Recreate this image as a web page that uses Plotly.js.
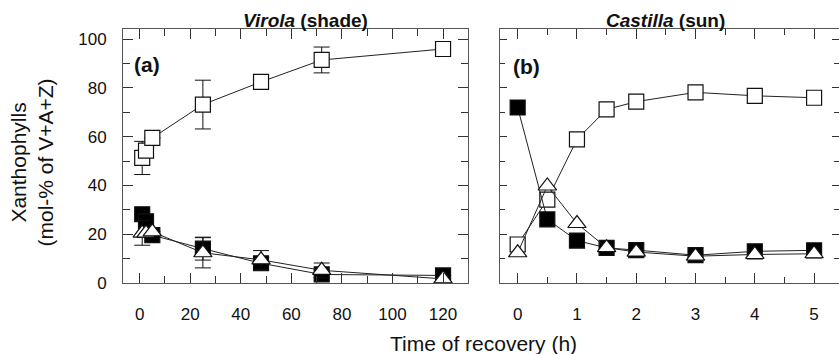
<!DOCTYPE html>
<html>
<head>
<meta charset="utf-8">
<script src="https://cdn.plot.ly/plotly-3.0.1.min.js"></script>
<style>
  html, body { margin: 0; padding: 0; background: #fff; }
  #chart { width: 839px; height: 354px; }
</style>
</head>
<body>
<div id="chart"></div>
<script>
// Virola (shade): recovery time in hours
const virolaTime = [1, 2.5, 5, 25, 48, 72, 120];
const virolaOpen = [51.3, 54.3, 59.5, 73.2, 82.5, 91.5, 96.0];
const virolaOpenErr = [6.8, null, null, 10, null, 5.3, null];
const virolaFilled = [28.2, 25.3, 19.6, 14.1, 8.1, 3.5, 3.1];
const virolaFilledErr = [null, null, null, 4.7, null, null, null];
const virolaTri = [20.5, 20.5, 21.0, 12.4, 9.5, 5.2, 1.7];
const virolaTriErr = [5, null, null, 6.2, 3.8, 3.0, null];

// Castilla (sun): recovery time in hours
const castillaTime = [0, 0.5, 1, 1.5, 2, 3, 4, 5];
const castillaOpen = [15.8, 34.2, 58.9, 71.2, 74.4, 78.2, 76.8, 76.0];
const castillaFilled = [72.0, 26.1, 17.4, 14.4, 13.5, 11.4, 13.0, 13.4];
const castillaTri = [12.4, 39.8, 24.4, 14.5, 12.7, 11.0, 11.7, 12.0];

const FONT = 'Liberation Sans, Arial, Helvetica, sans-serif';
const INK = '#111';
const LINE = '#222';

function series(x, y, err, symbol, fill, xa, ya) {
  const tr = {
    x: x, y: y, xaxis: xa, yaxis: ya,
    type: 'scatter', mode: 'lines+markers',
    line: { color: LINE, width: 1 },
    marker: {
      symbol: symbol,
      size: symbol === 'square' ? 15 : 16,
      color: fill,
      line: { color: INK, width: 1.2 }
    },
    showlegend: false, hoverinfo: 'skip', cliponaxis: false
  };
  if (err) {
    tr.error_y = { type: 'data', array: err, visible: true,
                   color: INK, thickness: 1, width: 8 };
  }
  return tr;
}

const data = [
  series(virolaTime, virolaOpen, virolaOpenErr, 'square', '#fff', 'x', 'y'),
  series(virolaTime, virolaFilled, virolaFilledErr, 'square', '#000', 'x', 'y'),
  series(virolaTime, virolaTri, virolaTriErr, 'triangle-up', '#fff', 'x', 'y'),
  series(castillaTime, castillaOpen, null, 'square', '#fff', 'x2', 'y2'),
  series(castillaTime, castillaFilled, null, 'square', '#000', 'x2', 'y2'),
  series(castillaTime, castillaTri, null, 'triangle-up', '#fff', 'x2', 'y2')
];

const axisBase = {
  showline: true, linecolor: '#555', linewidth: 1,
  mirror: 'allticks', ticks: 'inside', tickcolor: '#333', tickwidth: 1,
  showgrid: false, zeroline: false, fixedrange: true,
  tickfont: { family: FONT, size: 17, color: INK }
};

const layout = {
  width: 839, height: 354,
  margin: { l: 123, r: 0, t: 29, b: 71 },
  paper_bgcolor: '#fff', plot_bgcolor: '#fff',
  font: { family: FONT, color: INK },
  xaxis: Object.assign({}, axisBase, {
    domain: [0, 0.4823], range: [-6.6, 130.0],
    tickmode: 'linear', tick0: 0, dtick: 20, ticklen: 10,
    ticklabelstandoff: 16,
    minor: { dtick: 10, tick0: 0, ticks: 'inside', ticklen: 7, tickcolor: '#333' },
    anchor: 'y'
  }),
  yaxis: Object.assign({}, axisBase, {
    domain: [0, 1], range: [0, 104.2],
    tickmode: 'linear', tick0: 0, dtick: 20, ticklen: 10,
    ticklabelstandoff: 12,
    minor: { dtick: 10, tick0: 0, ticks: 'inside', ticklen: 7, tickcolor: '#333' },
    anchor: 'x'
  }),
  xaxis2: Object.assign({}, axisBase, {
    domain: [0.5272, 1], range: [-0.29, 5.42],
    tickmode: 'linear', tick0: 0, dtick: 1, ticklen: 10,
    ticklabelstandoff: 16,
    minor: { dtick: 0.5, tick0: 0, ticks: 'inside', ticklen: 6, tickcolor: '#333' },
    anchor: 'y2'
  }),
  yaxis2: Object.assign({}, axisBase, {
    domain: [0, 1], range: [0, 104.2],
    tickmode: 'linear', tick0: 0, dtick: 20, ticklen: 7,
    showticklabels: false,
    minor: { dtick: 10, tick0: 0, ticks: 'inside', ticklen: 5, tickcolor: '#333' },
    anchor: 'x2'
  }),
  annotations: [
    { text: '<b><i>Virola</i> (shade)</b>', xref: 'paper', yref: 'paper',
      x: 0.2542, y: 1.0315, xanchor: 'center', yanchor: 'middle', showarrow: false,
      font: { family: FONT, size: 19, color: INK } },
    { text: '<b><i>Castilla</i> (sun)</b>', xref: 'paper', yref: 'paper',
      x: 0.757, y: 1.0315, xanchor: 'center', yanchor: 'middle', showarrow: false,
      font: { family: FONT, size: 19, color: INK } },
    { text: '<b>(a)</b>', xref: 'paper', yref: 'paper',
      x: 0.0331, y: 0.861, xanchor: 'center', yanchor: 'middle', showarrow: false,
      font: { family: FONT, size: 21, color: INK } },
    { text: '<b>(b)</b>', xref: 'paper', yref: 'paper',
      x: 0.5642, y: 0.854, xanchor: 'center', yanchor: 'middle', showarrow: false,
      font: { family: FONT, size: 21, color: INK } },
    { text: 'Time of recovery (h)', xref: 'paper', yref: 'paper',
      x: 0.5035, y: -0.24, xanchor: 'center', yanchor: 'middle', showarrow: false,
      font: { family: FONT, size: 21, color: INK } },
    { text: 'Xanthophylls<br>(mol-% of V+A+Z)', xref: 'paper', yref: 'paper',
      x: -0.1278, y: 0.4764, xanchor: 'center', yanchor: 'middle', showarrow: false,
      textangle: -90,
      font: { family: FONT, size: 21, color: INK } }
  ]
};

Plotly.newPlot('chart', data, layout, { staticPlot: true, displayModeBar: false });
</script>
</body>
</html>
